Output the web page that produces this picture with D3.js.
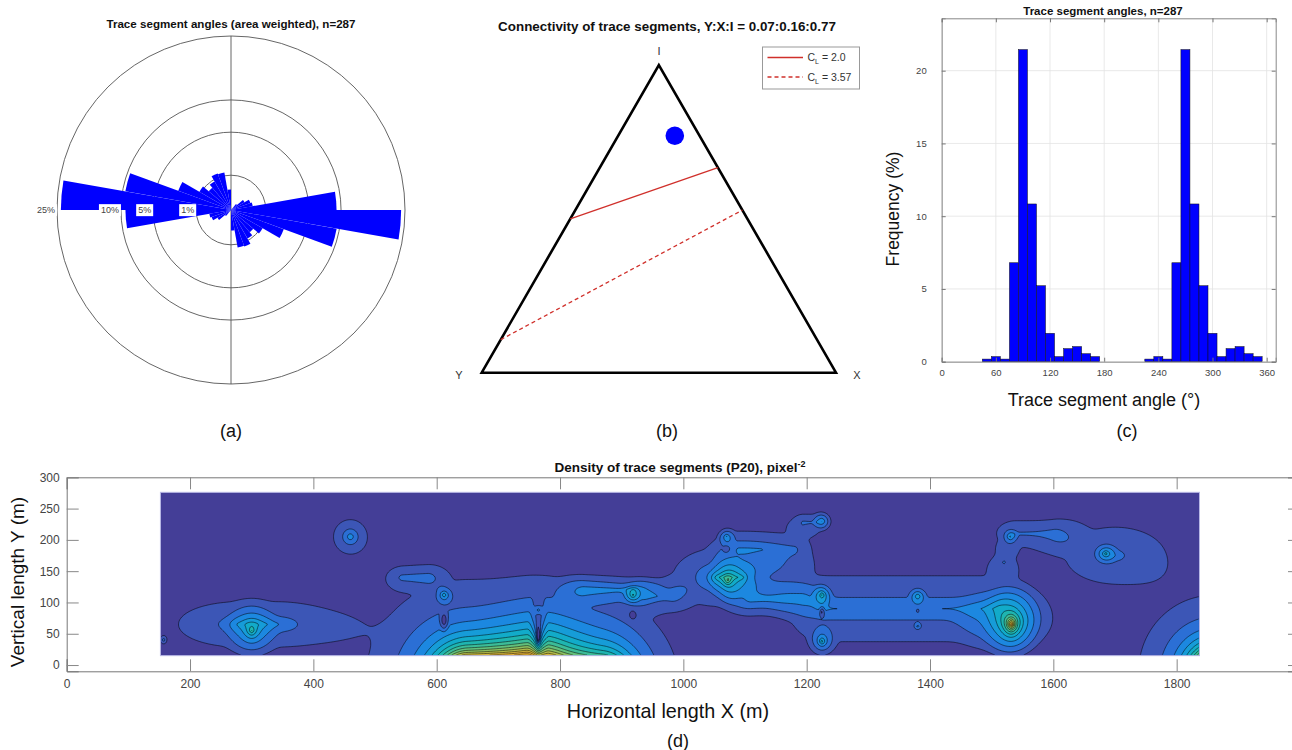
<!DOCTYPE html>
<html>
<head>
<meta charset="utf-8">
<script src="https://cdn.jsdelivr.net/npm/d3@7"></script>
<style>
body{margin:0;background:#fff;}
svg{display:block;font-family:"Liberation Sans",Arial,sans-serif;}
</style>
</head>
<body>
<script>
// ---------- data ----------
// (a) rose: 10 degree bins, share of total (%), compass angles
const roseBinStart = [0,10,20,30,40,50,60,70,80,90,100,110,120,130,140,150,160,170,
                      180,190,200,210,220,230,240,250,260,270,280,290,300,310,320,330,340,350];
const roseShare = [0,0,0,0,0.05,0.2,0.35,0.4,9.2,23.9,9.5,2.6,1.1,0.7,0.9,1.25,1.2,0.35,
                   0,0,0,0,0.05,0.2,0.35,0.4,9.2,23.9,9.5,2.6,1.1,0.7,0.9,1.25,1.2,0.35];
const roseRings = [1,5,10,25];

// (b) ternary connectivity
const nodeNames = ['Y','X','I'];
const nodeShare = [0.07,0.16,0.77];
const clValues = [2.0,3.57];
const clLabels = ['2.0','3.57'];

// (c) histogram of trace segment angles
const histCentres = [50,60,70,80,90,100,110,120,130,140,150,160,170,
                     230,240,250,260,270,280,290,300,310,320,330,340,350];
const histFreq = [0.18,0.35,0.18,6.8,21.45,10.84,5.22,1.95,0.35,0.9,1.04,0.55,0.35,
                  0.18,0.35,0.18,6.8,21.45,10.84,5.22,1.95,0.35,0.9,1.04,0.55,0.35];
const histXTicks = [0,60,120,180,240,300,360];
const histYTicks = [0,5,10,15,20];

// (d) P20 density: extent of the sampled window (m) and density hot spots
// [x, y, strength, spreadX, spreadY, halfLength]
const densityX = [152,1837];
const densityY = [15,276];
const densitySpots = [
  [310,65,3,150,55,30],[300,55,5,25,30,0],[157,40,2.5,8,10,0],[460,205,4,30,30,0],
  [695,-30,350,10,10,45],[835,-30,180,10,10,35],[765,45,-10,5,25,0],[765,88,2,10,10,0],
  [612,112,4,12,12,0],[612,70,-3,8,18,0],[565,140,1.9,45,30,20],[880,120,2.6,60,30,40],
  [960,110,1.9,50,40,20],
  [918,112,3.5,12,12,0],[918,80,-2,8,10,0],
  [1070,205,3,15,15,0],[1070,185,-1.5,8,8,0],[1072,135,5,18,22,0],[1075,140,4.5,70,45,20],
  [1135,185,2.2,60,55,45],[1205,228,2.1,40,30,10],[1150,105,2.2,60,40,40],[1370,90,3.0,90,80,140],
  [1225,230,3,15,15,0],[1225,112,4,12,14,0],[1225,85,-2.5,6,12,0],[1225,38,5,14,16,0],
  [1380,110,3.5,12,12,0],[1380,88,-1.5,6,8,0],[1380,62,2,8,8,0],
  [1530,205,2.8,14,14,0],[1570,210,2.2,70,45,30],[1520,165,1.8,40,40,0],
  [1532,65,10,16,22,0],[1532,70,2.4,110,70,0],
  [1700,175,2.4,160,90,0],[1685,178,4,14,12,0],
  [1860,-10,120,13,13,0]
];
const densityLevels = [1,2,3,4,5,6,7,8,9,10,11,12,13,14,15,16];
const densityXTicks = [0,200,400,600,800,1000,1200,1400,1600,1800];
const densityYTicks = [0,50,100,150,200,250,300];

// ---------- page ----------
const W = 1292, H = 750;
const ink = '#333';
const svg = d3.select('body').append('svg').attr('width',W).attr('height',H);

// ===== (a) rose diagram =====
const rR = d3.scaleSqrt().domain([0,25]).range([0,174]);
const rose = svg.append('g').attr('transform','translate(231,210)');
rose.selectAll('circle').data(roseRings).join('circle')
  .attr('r',d=>rR(d)).attr('fill','none').attr('stroke','#555').attr('stroke-width',0.9);
rose.append('line').attr('x1',0).attr('x2',0).attr('y1',-rR(25)).attr('y2',rR(25))
  .attr('stroke','#555').attr('stroke-width',0.9);
const petal = d3.arc().innerRadius(0);
rose.selectAll('path.petal')
  .data(roseBinStart.map((b,i)=>({b:b,v:roseShare[i]})).filter(d=>d.v>0))
  .join('path').attr('class','petal')
  .attr('d',d=>petal({outerRadius:rR(d.v),startAngle:d.b*Math.PI/180,endAngle:(d.b+10)*Math.PI/180}))
  .attr('fill','#0000ff');
roseRings.forEach(v=>{
  const g = rose.append('g');
  const t = g.append('text').attr('x',-rR(v)-2).attr('y',0).attr('dy','0.35em')
    .attr('text-anchor','end').attr('font-size',9).attr('fill','#444').text(v+'%');
  const bb = t.node().getBBox();
  g.insert('rect','text').attr('x',bb.x-2).attr('y',bb.y-1).attr('width',bb.width+4)
    .attr('height',bb.height+2).attr('fill','#fff');
});
svg.append('text').attr('x',231).attr('y',28).attr('text-anchor','middle')
  .attr('font-size',11.6).attr('font-weight','bold').attr('fill','#111')
  .text('Trace segment angles (area weighted), n=287');
svg.append('text').attr('x',231).attr('y',437).attr('text-anchor','middle')
  .attr('font-size',18).attr('fill','#111').text('(a)');

// ===== (b) ternary plot =====
const tx = d3.scaleLinear().domain([0,1]).range([481.7,836]);
const ty = d3.scaleLinear().domain([0,1]).range([372.7,65]);
const tern = (Y,X,I)=>[tx(X+I/2),ty(I)];
const corners = [tern(1,0,0),tern(0,1,0),tern(0,0,1)];
svg.append('path').attr('d',d3.line()(corners)+'Z').attr('fill','none')
  .attr('stroke','#000').attr('stroke-width',2.6).attr('stroke-linejoin','miter');
const clLine = c=>[tern(c/4,0,1-c/4),tern(0,c/(4+c),4/(4+c))];
const clDash = ['none','4,3'];
svg.selectAll('path.cl').data(clValues).join('path').attr('class','cl')
  .attr('d',d=>d3.line()(clLine(d))).attr('stroke','#d0302b').attr('stroke-width',1.3)
  .attr('fill','none').attr('stroke-dasharray',(d,i)=>clDash[i]);
const pt = tern(nodeShare[0],nodeShare[1],nodeShare[2]);
svg.append('circle').attr('cx',pt[0]).attr('cy',pt[1]).attr('r',9.3).attr('fill','#0000ff');
const labPos = [[459,379],[857,379],[659,55]];
nodeNames.forEach((n,i)=>{
  svg.append('text').attr('x',labPos[i][0]).attr('y',labPos[i][1]).attr('text-anchor','middle')
    .attr('font-size',11).attr('fill',ink).text(n);
});
svg.append('text').attr('x',667).attr('y',31).attr('text-anchor','middle')
  .attr('font-size',13.4).attr('font-weight','bold').attr('fill','#111')
  .text('Connectivity of trace segments, Y:X:I = '+nodeShare.map(d=>d.toFixed(2)).join(':'));
const leg = svg.append('g');
leg.append('rect').attr('x',762.5).attr('y',47).attr('width',97).attr('height',42)
  .attr('fill','#fff').attr('stroke','#999').attr('stroke-width',1);
clValues.forEach((c,i)=>{
  const y = 57.5+i*19.5;
  leg.append('line').attr('x1',767.5).attr('x2',803).attr('y1',y).attr('y2',y)
    .attr('stroke','#d0302b').attr('stroke-width',1.3).attr('stroke-dasharray',clDash[i]);
  const t = leg.append('text').attr('x',807.5).attr('y',y+3.5).attr('font-size',10.5).attr('fill',ink);
  t.append('tspan').text('C');
  t.append('tspan').attr('font-size',7).attr('dy',3).text('L');
  t.append('tspan').attr('dy',-3).text(' = '+clLabels[i]);
});
svg.append('text').attr('x',667).attr('y',437).attr('text-anchor','middle')
  .attr('font-size',18).attr('fill','#111').text('(b)');

// ===== (c) histogram =====
const hx = d3.scaleLinear().domain([0,370]).range([941.7,1275.7]);
const hy = d3.scaleLinear().domain([0,23.6]).range([361.7,18.3]);
const hist = svg.append('g');
hist.selectAll('line.gx').data(histXTicks).join('line')
  .attr('x1',d=>hx(d)).attr('x2',d=>hx(d)).attr('y1',hy(0)).attr('y2',hy(23.6))
  .attr('stroke','#e3e3e3').attr('stroke-width',0.8);
hist.selectAll('line.gy').data(histYTicks).join('line')
  .attr('x1',hx(0)).attr('x2',hx(370)).attr('y1',d=>hy(d)).attr('y2',d=>hy(d))
  .attr('stroke','#e3e3e3').attr('stroke-width',0.8);
hist.selectAll('rect.bar').data(histCentres).join('rect').attr('class','bar')
  .attr('x',d=>hx(d-5)).attr('width',d=>hx(d+5)-hx(d-5))
  .attr('y',(d,i)=>hy(histFreq[i])).attr('height',(d,i)=>hy(0)-hy(histFreq[i]))
  .attr('fill','#0000ff').attr('stroke','#111').attr('stroke-width',0.5);
const axB = hist.append('g').attr('transform',`translate(0,${hy(0)})`)
  .call(d3.axisBottom(hx).tickValues(histXTicks).tickSize(-4).tickPadding(8));
const axL = hist.append('g').attr('transform',`translate(${hx(0)},0)`)
  .call(d3.axisLeft(hy).tickValues(histYTicks).tickSize(-4).tickPadding(15));
const axT = hist.append('g').attr('transform',`translate(0,${hy(23.6)})`)
  .call(d3.axisTop(hx).tickValues(histXTicks).tickSize(-4).tickFormat(''));
const axR = hist.append('g').attr('transform',`translate(${hx(370)},0)`)
  .call(d3.axisRight(hy).tickValues(histYTicks).tickSize(-4).tickFormat(''));
[axB,axL,axT,axR].forEach(a=>{
  a.select('.domain').attr('stroke','#888');
  a.selectAll('.tick line').attr('stroke','#777');
  a.selectAll('text').attr('font-size',9.5).attr('fill','#444').attr('font-family','inherit');
});
svg.append('text').attr('transform','translate(899,209) rotate(-90)').attr('text-anchor','middle')
  .attr('font-size',17.5).attr('fill','#111').text('Frequency (%)');
svg.append('text').attr('x',1104).attr('y',406).attr('text-anchor','middle')
  .attr('font-size',18).attr('fill','#111').text('Trace segment angle (°)');
svg.append('text').attr('x',1103).attr('y',15).attr('text-anchor','middle')
  .attr('font-size',11.5).attr('font-weight','bold').attr('fill','#111').text('Trace segment angles, n=287');
svg.append('text').attr('x',1127).attr('y',437).attr('text-anchor','middle')
  .attr('font-size',18).attr('fill','#111').text('(c)');

// ===== (d) density contour map =====
const dx = d3.scaleLinear().domain([0,2000]).range([66.7,1300]);
const dy = d3.scaleLinear().domain([-10,300]).range([671.3,477.3]);
const dens = svg.append('g');
const nx = 700, ny = 120;
const stepX = (densityX[1]-densityX[0])/nx, stepY = (densityY[1]-densityY[0])/ny;
const grid = new Float64Array(nx*ny);
const cutR = densitySpots.map(s=>Math.max(0.8,1.35*(Math.sqrt(Math.abs(s[2]))-1)));
for(let j=0;j<ny;j++){
  const ym = densityY[1]-(j+0.5)*stepY;
  for(let i=0;i<nx;i++){
    const xm = densityX[0]+(i+0.5)*stepX;
    let v = 0;
    densitySpots.forEach((s,k)=>{
      const ex = Math.max(0,Math.abs(xm-s[0])-s[5])/s[3];
      const ey = (ym-s[1])/s[4];
      const r = Math.sqrt(ex*ex+ey*ey);
      const q = r/cutR[k], q2 = q*q;
      v += s[2]/((1+r)*(1+r))*Math.exp(-q2*q2*q2);
    });
    grid[j*nx+i] = v;
  }
}
const palette = ['#443e97','#3c56b6','#2b6fd5','#1c88e0','#169cd8','#12abc9','#1fb5b0','#3cbc98',
  '#62c07c','#8cc062','#b3bc4a','#d4b63e','#e6b03a','#efbb32','#f4cc2b','#f7df22','#f9ef18'];
const px0 = dx(densityX[0]), py0 = dy(densityY[1]);
const kx = (dx(densityX[1])-px0)/nx, ky = (dy(densityY[0])-py0)/ny;
const proj = d3.geoTransform({point:function(x,y){this.stream.point(px0+x*kx,py0+y*ky);}});
const gpath = d3.geoPath(proj);
const bands = d3.contours().size([nx,ny]).thresholds(densityLevels)(grid);
svg.append('clipPath').attr('id','inner').append('rect')
  .attr('x',px0+0.8).attr('y',py0+0.8).attr('width',dx(densityX[1])-px0-1.6).attr('height',dy(densityY[0])-py0-1.6);
dens.append('rect').attr('x',px0).attr('y',py0).attr('width',dx(densityX[1])-px0)
  .attr('height',dy(densityY[0])-py0).attr('fill',palette[0]);
dens.selectAll('path.band').data(bands).join('path').attr('class','band')
  .attr('d',gpath).attr('fill',(d,i)=>palette[Math.min(i+1,palette.length-1)]);
dens.append('g').attr('clip-path','url(#inner)').selectAll('path').data(bands).join('path')
  .attr('d',gpath).attr('fill','none').attr('stroke','#000').attr('stroke-width',0.6).attr('stroke-opacity',0.85);
dens.append('rect').attr('x',px0).attr('y',py0).attr('width',dx(densityX[1])-px0)
  .attr('height',dy(densityY[0])-py0).attr('fill','none').attr('stroke','#b9b9e6').attr('stroke-width',1);
// axes box
const dB = svg.append('g').attr('transform',`translate(0,${dy(-10)})`)
  .call(d3.axisBottom(dx).tickValues(densityXTicks).tickFormat(d3.format('d')).tickSize(-12).tickPadding(8));
const dT = svg.append('g').attr('transform',`translate(0,${dy(300)})`)
  .call(d3.axisTop(dx).tickValues(densityXTicks).tickSize(-12).tickFormat(''));
const dL = svg.append('g').attr('transform',`translate(${dx(0)},0)`)
  .call(d3.axisLeft(dy).tickValues(densityYTicks).tickSize(-12).tickPadding(7));
const dR = svg.append('g').attr('transform',`translate(${dx(2000)},0)`)
  .call(d3.axisRight(dy).tickValues(densityYTicks).tickSize(-12).tickFormat(''));
[dB,dT,dL,dR].forEach(a=>{
  a.select('.domain').attr('stroke','#777');
  a.selectAll('.tick line').attr('stroke','#888');
  a.selectAll('text').attr('font-size',12).attr('fill','#444').attr('font-family','inherit');
});
const dt = svg.append('text').attr('x',680).attr('y',472).attr('text-anchor','middle')
  .attr('font-size',13.5).attr('font-weight','bold').attr('fill','#111');
dt.append('tspan').text('Density of trace segments (P20), pixel');
dt.append('tspan').attr('font-size',9).attr('dy',-5).text('-2');
svg.append('text').attr('transform','translate(24,582) rotate(-90)').attr('text-anchor','middle')
  .attr('font-size',19).attr('fill','#111').text('Vertical length Y (m)');
svg.append('text').attr('x',668).attr('y',718).attr('text-anchor','middle')
  .attr('font-size',19.8).attr('fill','#111').text('Horizontal length X (m)');
svg.append('text').attr('x',678).attr('y',747).attr('text-anchor','middle')
  .attr('font-size',18).attr('fill','#111').text('(d)');
</script>
</body>
</html>
